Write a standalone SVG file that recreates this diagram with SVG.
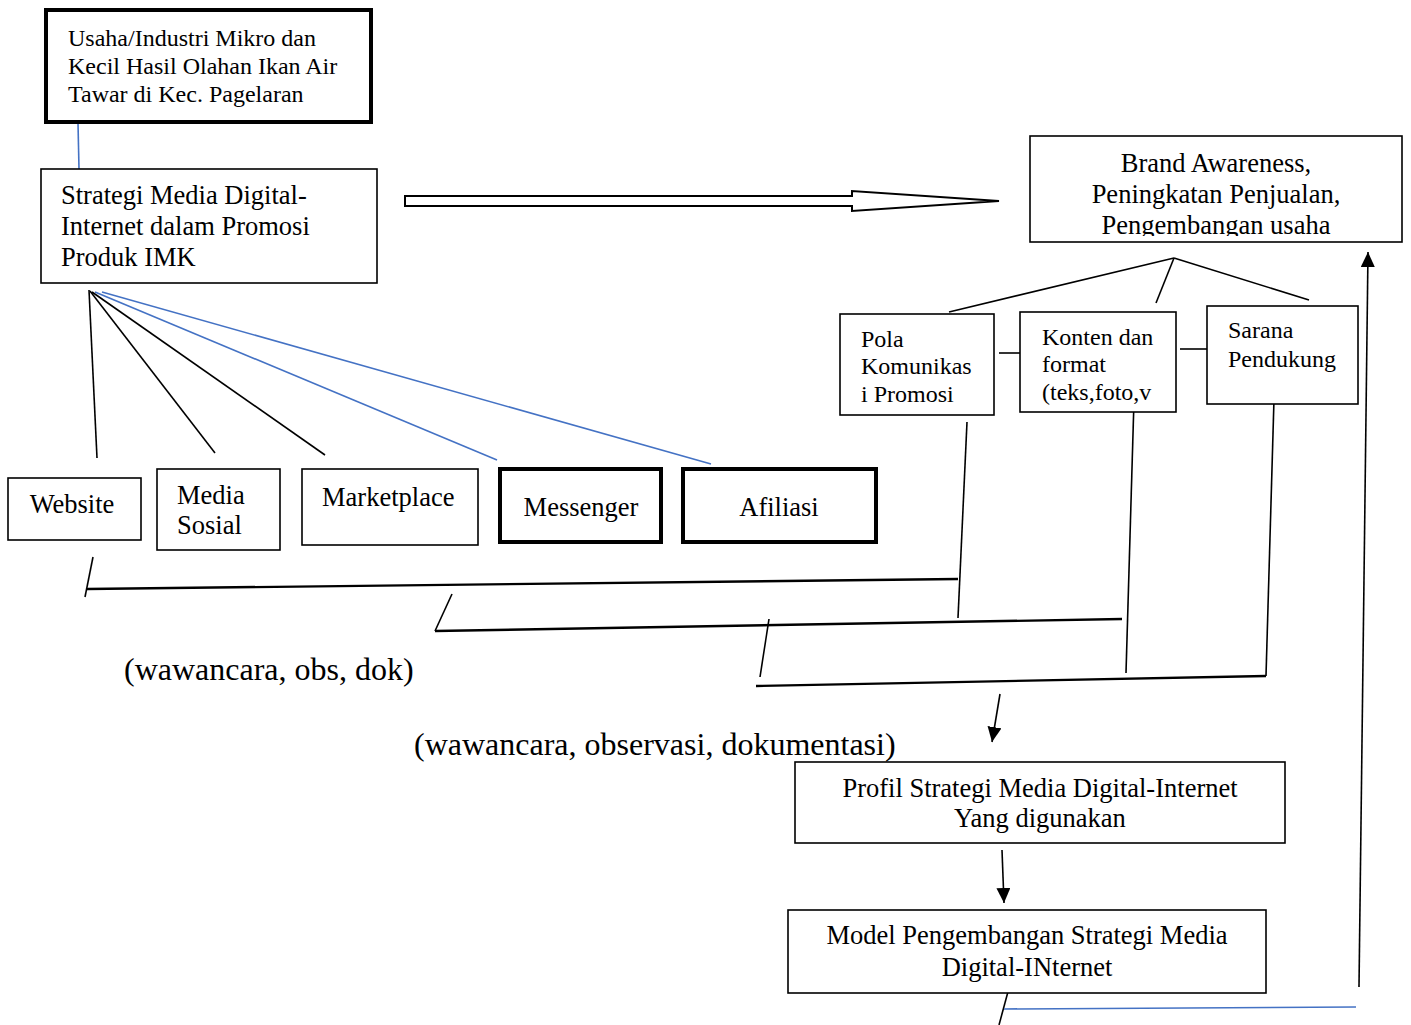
<svg xmlns="http://www.w3.org/2000/svg" width="1411" height="1025" viewBox="0 0 1411 1025">
<style>
text{font-family:"Liberation Serif","Times New Roman",serif;fill:#000}
.s24{font-size:24px}
.s26{font-size:26.5px}
.s32{font-size:32px}
.box{fill:#fff;stroke:#000;stroke-width:1.6}
.thick{fill:#fff;stroke:#000;stroke-width:4}
.ln{stroke:#000;stroke-width:1.6;fill:none}
.lnb{stroke:#000;stroke-width:2.4;fill:none}
.blue{stroke:#4472C4;stroke-width:1.6;fill:none}
.mid{text-anchor:middle}
</style>
<defs>
<marker id="ah" markerUnits="userSpaceOnUse" markerWidth="16" markerHeight="14" refX="15" refY="7" orient="auto">
<path d="M0,0 L15,7 L0,14 z" fill="#000"/>
</marker>
<clipPath id="brandclip"><rect x="1030" y="136" width="372" height="100"/></clipPath>
</defs>

<g id="connectors">
<line class="blue" x1="78" y1="123" x2="79" y2="169"/>
<polygon points="405,196 852,196 852,191 999,201 852,211 852,206 405,206" fill="#fff" stroke="#000" stroke-width="2"/>
<line class="ln" x1="89" y1="290" x2="97" y2="458"/>
<line class="ln" x1="90" y1="291" x2="215" y2="453"/>
<line class="ln" x1="92" y1="292" x2="325" y2="455"/>
<line class="blue" x1="95" y1="292" x2="497" y2="460"/>
<line class="blue" x1="102" y1="292" x2="711" y2="464"/>
<line class="ln" x1="1174" y1="258" x2="949" y2="312"/>
<line class="ln" x1="1174" y1="258" x2="1156" y2="303"/>
<line class="ln" x1="1174" y1="258" x2="1309" y2="300"/>
<line class="ln" x1="999" y1="353" x2="1020" y2="353"/>
<line class="ln" x1="1180" y1="349" x2="1209" y2="349"/>
<line class="ln" x1="967" y1="422" x2="958" y2="618"/>
<line class="ln" x1="1134" y1="400" x2="1126" y2="673"/>
<line class="ln" x1="1274" y1="399" x2="1266" y2="676"/>
<line class="ln" x1="93" y1="557" x2="85" y2="597"/>
<line class="lnb" x1="87" y1="589" x2="958" y2="579"/>
<line class="ln" x1="452" y1="594" x2="435" y2="631"/>
<line class="lnb" x1="435" y1="631" x2="1122" y2="619"/>
<line class="ln" x1="769" y1="619" x2="760" y2="677"/>
<line class="lnb" x1="756" y1="686" x2="1266" y2="676"/>
<line class="ln" x1="1000" y1="694" x2="992" y2="742" marker-end="url(#ah)"/>
<line class="ln" x1="1002" y1="850" x2="1004" y2="903" marker-end="url(#ah)"/>
<line class="ln" x1="1009" y1="988" x2="999" y2="1025"/>
<line class="blue" x1="1004" y1="1009" x2="1356" y2="1007"/>
<line class="ln" x1="1359" y1="987" x2="1368" y2="252" marker-end="url(#ah)"/>
</g>

<g id="node-usaha">
<rect class="thick" x="46" y="10" width="325" height="112"/>
<text class="s24" x="68" y="46">Usaha/Industri Mikro dan</text>
<text class="s24" x="68" y="74">Kecil Hasil Olahan Ikan Air</text>
<text class="s24" x="68" y="102">Tawar di Kec. Pagelaran</text>
</g>

<g id="node-strategi">
<rect class="box" x="41" y="169" width="336" height="114"/>
<text class="s26" x="61" y="204">Strategi Media Digital-</text>
<text class="s26" x="61" y="235">Internet dalam Promosi</text>
<text class="s26" x="61" y="266">Produk IMK</text>
</g>

<g id="node-brand">
<rect class="box" x="1030" y="136" width="372" height="106"/>
<g clip-path="url(#brandclip)">
<text class="s26 mid" x="1216" y="172">Brand Awareness,</text>
<text class="s26 mid" x="1216" y="203">Peningkatan Penjualan,</text>
<text class="s26 mid" x="1216" y="234">Pengembangan usaha</text>
</g>
</g>

<g id="node-pola">
<rect class="box" x="840" y="314" width="154" height="101"/>
<text class="s24" x="861" y="347">Pola</text>
<text class="s24" x="861" y="374">Komunikas</text>
<text class="s24" x="861" y="402">i Promosi</text>
</g>

<g id="node-konten">
<rect class="box" x="1020" y="312" width="156" height="100"/>
<text class="s24" x="1042" y="345">Konten dan</text>
<text class="s24" x="1042" y="372">format</text>
<text class="s24" x="1042" y="400">(teks,foto,v</text>
</g>

<g id="node-sarana">
<rect class="box" x="1207" y="306" width="151" height="98"/>
<text class="s24" x="1228" y="338">Sarana</text>
<text class="s24" x="1228" y="367">Pendukung</text>
</g>

<g id="node-website">
<rect class="box" x="8" y="478" width="133" height="62"/>
<text class="s26 mid" x="72" y="513">Website</text>
</g>

<g id="node-mediasosial">
<rect class="box" x="157" y="469" width="123" height="81"/>
<text class="s26" x="177" y="504">Media</text>
<text class="s26" x="177" y="534">Sosial</text>
</g>

<g id="node-marketplace">
<rect class="box" x="302" y="469" width="176" height="76"/>
<text class="s26" x="322" y="506">Marketplace</text>
</g>

<g id="node-messenger">
<rect class="thick" x="500" y="469" width="161" height="73"/>
<text class="s26 mid" x="581" y="516">Messenger</text>
</g>

<g id="node-afiliasi">
<rect class="thick" x="683" y="469" width="193" height="73"/>
<text class="s26 mid" x="779" y="516">Afiliasi</text>
</g>

<g id="labels">
<text class="s32" x="124" y="680">(wawancara, obs, dok)</text>
<text class="s32" x="414" y="755">(wawancara, observasi, dokumentasi)</text>
</g>

<g id="node-profil">
<rect class="box" x="795" y="762" width="490" height="81"/>
<text class="s26 mid" x="1040" y="797">Profil Strategi Media Digital-Internet</text>
<text class="s26 mid" x="1040" y="827">Yang digunakan</text>
</g>

<g id="node-model">
<rect class="box" x="788" y="910" width="478" height="83"/>
<text class="s26 mid" x="1027" y="944">Model Pengembangan Strategi Media</text>
<text class="s26 mid" x="1027" y="976">Digital-INternet</text>
</g>
</svg>
